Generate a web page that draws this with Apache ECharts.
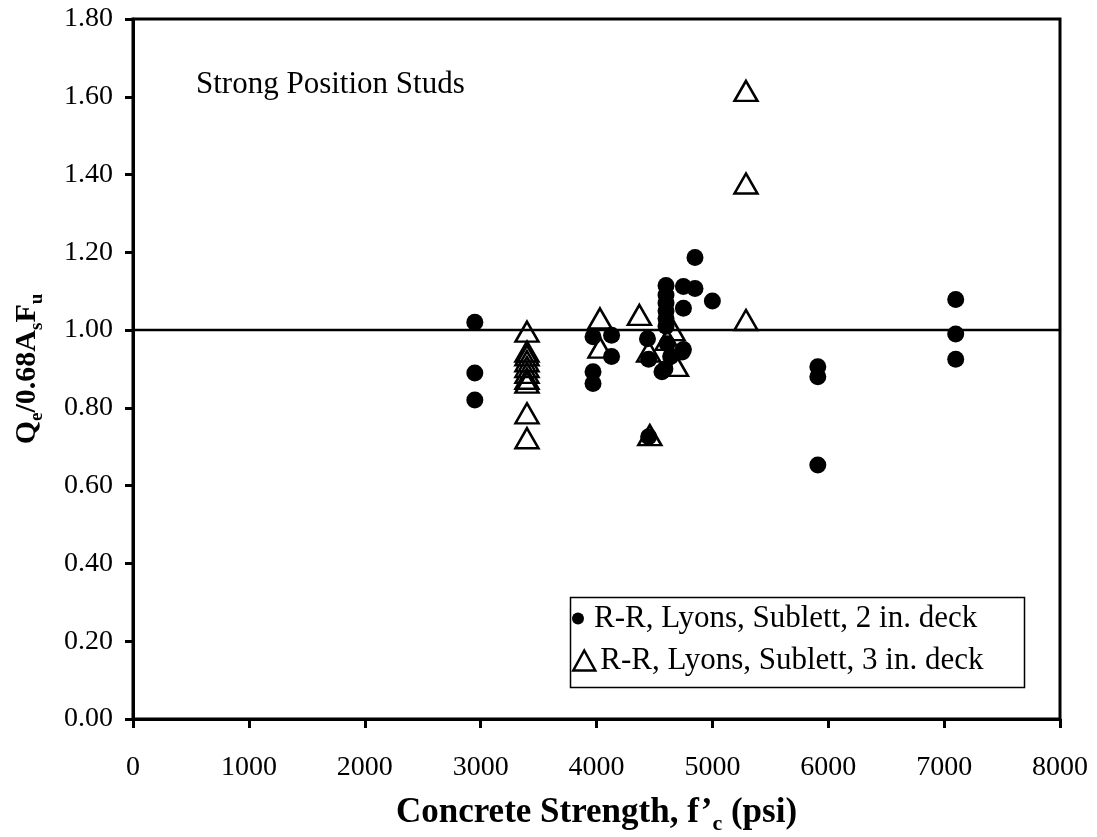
<!DOCTYPE html>
<html>
<head>
<meta charset="utf-8">
<script src="https://cdn.jsdelivr.net/npm/echarts@6/dist/echarts.min.js"></script>
<style>
  html, body { margin: 0; padding: 0; background: #fff; }
  #chart { width: 1097px; height: 837px; }
</style>
</head>
<body>
<div id="chart"></div>
<script>
// Strong-position stud tests: measured strength ratio vs concrete strength

// Axis ticks
const xTicks = [0, 1000, 2000, 3000, 4000, 5000, 6000, 7000, 8000];
const yTicks = [0.0, 0.2, 0.4, 0.6, 0.8, 1.0, 1.2, 1.4, 1.6, 1.8];

// R-R, Lyons, Sublett — 2 in. deck (filled circles)
const deck2Strength = [
  2950, 2950, 2950,
  3970, 3970, 3970,
  4130, 4130,
  4440, 4450, 4450,
  4565, 4590, 4610, 4640,
  4600, 4600, 4600, 4600, 4600, 4600,
  4740, 4750, 4750, 4750,
  4850, 4850,
  5000,
  5910, 5910, 5910,
  7100, 7100, 7100
];
const deck2Ratio = [
  1.02, 0.89, 0.82,
  0.983, 0.893, 0.863,
  0.987, 0.932,
  0.978, 0.925, 0.726,
  0.893, 0.900, 0.965, 0.932,
  1.115, 1.09, 1.07, 1.05, 1.03, 1.01,
  0.944, 1.112, 1.056, 0.950,
  1.187, 1.107,
  1.075,
  0.906, 0.880, 0.653,
  1.079, 0.990, 0.925
];

// R-R, Lyons, Sublett — 3 in. deck (open triangles)
const deck3Strength = [
  3400, 3400, 3400, 3400, 3400, 3400, 3400, 3400, 3400, 3400,
  4030, 4030,
  4370,
  4450, 4460,
  4610, 4660, 4690,
  5290, 5290, 5290
];
const deck3Ratio = [
  0.996, 0.945, 0.935, 0.92, 0.905, 0.89, 0.875, 0.865, 0.786, 0.722,
  1.030, 0.955,
  1.039,
  0.945, 0.730,
  0.975, 1.000, 0.908,
  1.615, 1.377, 1.026
];

// Horizontal reference at a ratio of 1.0
const refX = [0, 8000];
const refY = [1.0, 1.0];

const LEG2 = 'R-R, Lyons, Sublett, 2 in. deck';
const LEG3 = 'R-R, Lyons, Sublett, 3 in. deck';
const SERIF = '"Liberation Serif", "Times New Roman", serif';

const zip = (xs, ys) => xs.map((x, i) => [x, ys[i]]);

const chart = echarts.init(document.getElementById('chart'), null, { renderer: 'canvas' });

chart.setOption({
  backgroundColor: '#fff',
  animation: false,
  textStyle: { fontFamily: SERIF, color: '#000' },
  title: {
    text: 'Strong Position Studs',
    left: 191,
    top: 64,
    textStyle: { fontFamily: SERIF, fontSize: 31, fontWeight: 'normal', color: '#000' }
  },
  grid: {
    left: 133, right: 37, top: 19, bottom: 118,
    outerBoundsMode: 'none',
    containLabel: false,
    show: true, borderColor: '#000', borderWidth: 3, backgroundColor: 'transparent'
  },
  xAxis: {
    type: 'value',
    min: xTicks[0],
    max: xTicks[xTicks.length - 1],
    interval: xTicks[1] - xTicks[0],
    axisLine: { show: true, lineStyle: { color: '#000', width: 3 } },
    axisTick: { show: true, inside: false, length: 9, lineStyle: { color: '#000', width: 3 } },
    splitLine: { show: false },
    axisLabel: {
      color: '#000', fontFamily: SERIF, fontSize: 28, margin: 35,
      formatter: v => String(v)
    },
    name: '{b|Concrete Strength, f’}{s|c}{b| (psi)}',
    nameLocation: 'middle',
    nameGap: 72,
    nameTextStyle: {
      rich: {
        b: { fontFamily: SERIF, fontWeight: 'bold', fontSize: 35, lineHeight: 44, verticalAlign: 'middle', color: '#000' },
        s: { fontFamily: SERIF, fontWeight: 'bold', fontSize: 22, lineHeight: 22, verticalAlign: 'bottom', color: '#000' }
      }
    }
  },
  yAxis: {
    type: 'value',
    min: yTicks[0],
    max: yTicks[yTicks.length - 1],
    interval: 0.2,
    axisLine: { show: true, lineStyle: { color: '#000', width: 3 } },
    axisTick: { show: true, inside: false, length: 8, lineStyle: { color: '#000', width: 3 } },
    splitLine: { show: false },
    axisLabel: {
      color: '#000', fontFamily: SERIF, fontSize: 28, margin: 20,
      formatter: v => v.toFixed(2)
    },
    name: '{b|Q}{s|e}{b|/0.68A}{s|s}{b|F}{s|u}',
    nameLocation: 'middle',
    nameRotate: 90,
    nameGap: 86,
    nameTextStyle: {
      rich: {
        b: { fontFamily: SERIF, fontWeight: 'bold', fontSize: 30, lineHeight: 40, verticalAlign: 'middle', color: '#000' },
        s: { fontFamily: SERIF, fontWeight: 'bold', fontSize: 19, lineHeight: 19, verticalAlign: 'bottom', color: '#000' }
      }
    }
  },
  legend: [
    {
      data: [LEG2],
      left: 572, top: 603,
      orient: 'vertical',
      padding: 0,
      itemWidth: 22, itemHeight: 12, itemGap: 0,
      selectedMode: false,
      textStyle: { fontFamily: SERIF, fontSize: 31, color: '#000' }
    },
    {
      data: [LEG3],
      left: 572, top: 645,
      orient: 'vertical',
      padding: 0,
      itemWidth: 22, itemHeight: 20, itemGap: 0,
      selectedMode: false,
      itemStyle: { color: 'rgba(0,0,0,0)', borderColor: '#000', borderWidth: 2.5 },
      textStyle: { fontFamily: SERIF, fontSize: 31, color: '#000' }
    }
  ],
  graphic: [
    {
      type: 'rect',
      left: 568, top: 595,
      shape: { width: 454, height: 90 },
      style: { fill: 'none', stroke: '#000', lineWidth: 1.5 },
      z: 5
    }
  ],
  series: [
    {
      type: 'line',
      name: 'ref',
      data: zip(refX, refY),
      symbol: 'none',
      lineStyle: { color: '#000', width: 2.5 },
      silent: true
    },
    {
      type: 'scatter',
      name: LEG2,
      data: zip(deck2Strength, deck2Ratio),
      symbol: 'circle',
      symbolSize: 17,
      itemStyle: { color: '#000', opacity: 1 }
    },
    {
      type: 'scatter',
      name: LEG3,
      data: zip(deck3Strength, deck3Ratio),
      symbol: 'triangle',
      symbolSize: [23, 20],
      itemStyle: { color: 'rgba(0,0,0,0)', borderColor: '#000', borderWidth: 2.5, opacity: 1 }
    }
  ]
});
</script>
</body>
</html>
